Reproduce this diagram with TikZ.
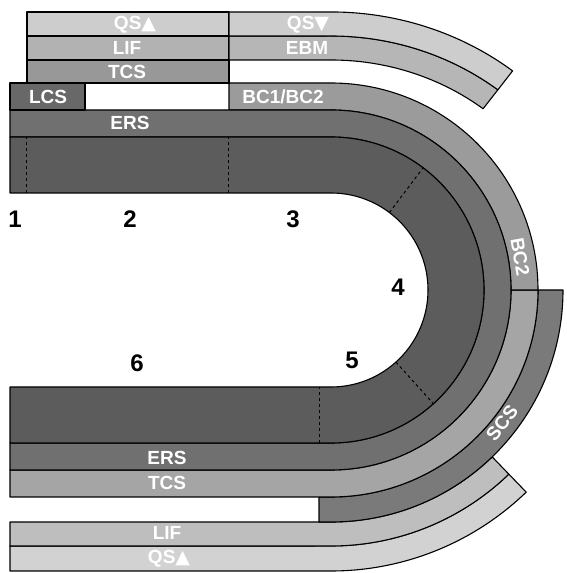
\documentclass[tikz,border=0pt]{standalone}
\usepackage{fontspec}
\setmainfont{Liberation Sans}
\newfontfamily\symf{DejaVu Sans}
\definecolor{cDark}{RGB}{92,92,92}
\definecolor{cERS}{RGB}{112,112,112}
\definecolor{cLCS}{RGB}{104,104,104}
\definecolor{cBC}{RGB}{155,155,155}
\definecolor{cTCSt}{RGB}{152,152,152}
\definecolor{cTCSb}{RGB}{165,165,165}
\definecolor{cSCS}{RGB}{122,122,122}
\definecolor{cLIF}{RGB}{178,178,178}
\definecolor{cEBM}{RGB}{182,182,182}
\definecolor{cQS}{RGB}{205,205,205}
\definecolor{cLIFb}{RGB}{190,190,190}
\definecolor{cQSb}{RGB}{210,210,210}
\tikzset{
  band/.style={draw=black, line width=1.1pt, line join=round},
  lab/.style={text=white, font=\fontsize{19}{19}\bfseries\selectfont, inner sep=0pt},
  num/.style={text=black, font=\fontsize{24}{24}\bfseries\selectfont, inner sep=0pt},
  divider/.style={draw=black, line width=1pt, dash pattern=on 3pt off 3pt}
}
\newcommand{\tri}[1]{{\symf\fontsize{19}{19}\selectfont #1}}
\begin{document}
\begin{tikzpicture}[x=1pt,y=1pt]
\useasboundingbox (0,0) rectangle (567,573);
\coordinate (C) at (331,283);
% bottom QS and LIF
\draw[band, fill=cQSb] (10,2) -- (331,2) arc[start angle=-90,end angle=-46,radius=281] -- (508.8,98.9) arc[start angle=-46,end angle=-90,radius=256] -- (10,27) -- cycle;
\draw[band, fill=cLIFb] (10,27) -- (331,27) arc[start angle=-90,end angle=-46,radius=256] -- (492.2,116.1) arc[start angle=-46,end angle=-90,radius=232] -- (10,51) -- cycle;
% SCS
\draw[band, fill=cSCS] (319,51) -- (331,51) arc[start angle=-90,end angle=0,radius=232] -- (538,283) arc[start angle=0,end angle=-90,radius=207] -- (319,76) -- cycle;
% TCS bottom
\draw[band, fill=cTCSb] (10,76) -- (331,76) arc[start angle=-90,end angle=0,radius=207] -- (511,283) arc[start angle=0,end angle=-90,radius=180] -- (10,103) -- cycle;
% BC1/BC2
\draw[band, fill=cBC] (229,463) -- (331,463) arc[start angle=90,end angle=0,radius=180] -- (538,283) arc[start angle=0,end angle=90,radius=207] -- (229,490) -- cycle;
% ERS
\draw[band, fill=cERS] (10,436) -- (331,436) arc[start angle=90,end angle=-90,radius=153] -- (10,130) -- (10,103) -- (331,103) arc[start angle=-90,end angle=90,radius=180] -- (10,463) -- cycle;
% dark track
\draw[band, fill=cDark] (10,380) -- (331,380) arc[start angle=90,end angle=-90,radius=97] -- (10,186) -- (10,130) -- (331,130) arc[start angle=-90,end angle=90,radius=153] -- (10,436) -- cycle;
% top rectangles
\draw[band, fill=cLCS] (10,463) rectangle (85,490);
\draw[band, fill=cTCSt] (27,490) rectangle (229,513);
\draw[band, fill=cLIF] (27,513) rectangle (229,537);
\draw[band, fill=cQS] (27,537) rectangle (229,561);
% EBM and QS down
\draw[band, fill=cEBM] (229,513) -- (331,513) arc[start angle=90,end angle=52,x radius=247,y radius=230] -- (497.9,483.2) arc[start angle=52,end angle=90,x radius=271,y radius=254] -- (229,537) -- cycle;
\draw[band, fill=cQS] (229,537) -- (331,537) arc[start angle=90,end angle=52,x radius=271,y radius=254] -- (512.6,502.1) arc[start angle=52,end angle=90,x radius=295,y radius=278] -- (229,561) -- cycle;
% dividers
\draw[divider] (26,380) -- (26,436);
\draw[divider] (228,380) -- (228,436);
\draw[divider] (389.4,360.5) -- (423.1,405.2);
\draw[divider] (395.9,210.9) -- (433.4,169.3);
\draw[divider] (319,130) -- (319,186);
% labels
\node[lab] (qsup) at (135,548) {QS\tri{▲}};
\node[lab] (lift) at (127,525) {LIF};
\node[lab] (tcst) at (127,501) {TCS};
\node[lab] (lcs) at (48,476) {LCS};
\node[lab] (erst) at (130,450) {ERS};
\node[lab] (qsdown) at (308,548) {QS\tri{▼}};
\node[lab] (ebm) at (307,525) {EBM};
\node[lab] (bc12) at (283,476) {BC1/BC2};
\node[lab, rotate=-80] (bc2) at (520,316) {BC2};
\node[lab, rotate=52] (scs) at (502,150) {SCS};
\node[lab] (ersb) at (167,115) {ERS};
\node[lab] (tcsb) at (167,90) {TCS};
\node[lab] (lifb) at (167,40) {LIF};
\node[lab] (qsb) at (169,14) {QS\tri{▲}};
% numbers
\node[num] (n1) at (15,354) {1};
\node[num] (n2) at (130,354) {2};
\node[num] (n3) at (293,354) {3};
\node[num] (n4) at (398,286) {4};
\node[num] (n5) at (352,213) {5};
\node[num] (n6) at (137,210) {6};
\end{tikzpicture}
\end{document}
